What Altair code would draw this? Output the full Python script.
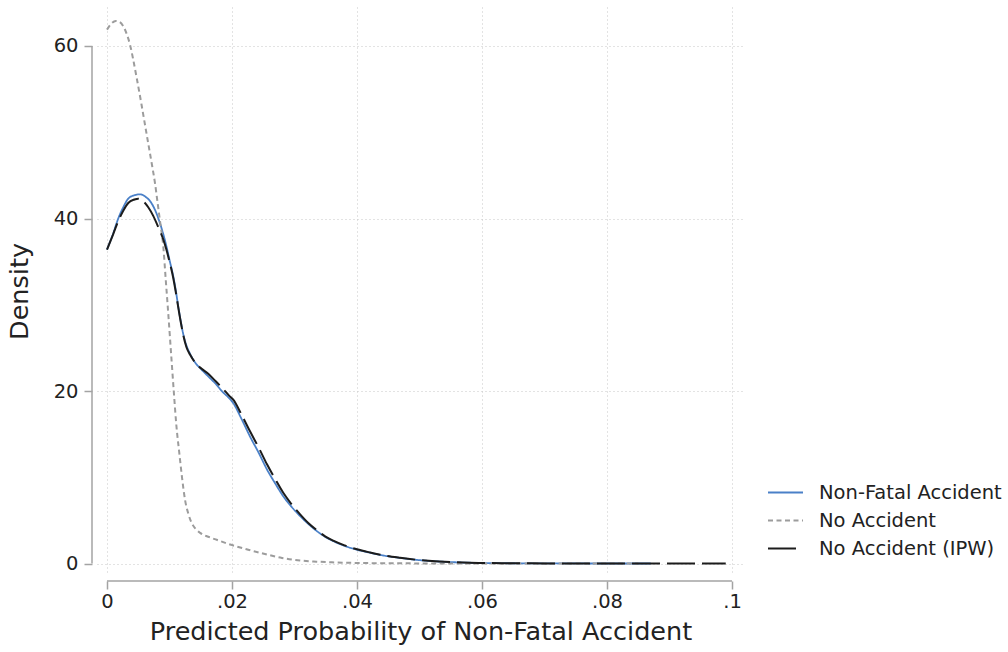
import altair as alt
import pandas as pd

# Kernel density estimates of the predicted probability of a non-fatal accident
nonfatal_x = [0, 0.001, 0.0018, 0.0026, 0.0034, 0.0044, 0.0053, 0.0062, 0.0071, 0.0078,
              0.0085, 0.009, 0.0095, 0.0100, 0.0106, 0.0110, 0.0114, 0.0118, 0.0122, 0.0127,
              0.0133, 0.0141, 0.0151, 0.0162, 0.0173, 0.0185, 0.0195, 0.0202, 0.0215, 0.0229,
              0.0243, 0.0256, 0.0269, 0.0282, 0.0295, 0.0309, 0.0322, 0.0336, 0.0349, 0.0362,
              0.038, 0.040, 0.0421, 0.0442, 0.0469, 0.0496, 0.052, 0.0549, 0.058, 0.060,
              0.065, 0.07, 0.075, 0.08, 0.087]
nonfatal_y = [36.4, 38.3, 40.0, 41.3, 42.3, 42.7, 42.8, 42.5, 41.8, 40.8,
              39.4, 38.2, 36.8, 35.2, 33.3, 31.7, 29.8, 28.1, 26.6, 25.3,
              24.3, 23.3, 22.5, 21.7, 20.9, 19.9, 19.2, 18.6, 16.8, 14.7,
              12.8, 10.9, 9.3, 7.8, 6.6, 5.5, 4.6, 3.75, 3.1, 2.6,
              2.05, 1.6, 1.25, 0.93, 0.65, 0.42, 0.28, 0.17, 0.09, 0.06,
              0.03, 0.015, 0.008, 0.004, 0.002]

noacc_x = [0, 0.0007, 0.0014, 0.002, 0.0026, 0.0032, 0.0037, 0.0042, 0.00475, 0.0055,
           0.006, 0.0066, 0.0072, 0.0077, 0.0081, 0.0085, 0.009, 0.0094, 0.0098, 0.0102,
           0.0107, 0.0111, 0.01157, 0.012, 0.01248, 0.013, 0.01355, 0.0142, 0.0149, 0.0162,
           0.01755, 0.0197, 0.0226, 0.0256, 0.028, 0.0309, 0.0335, 0.036, 0.040, 0.045,
           0.05, 0.06, 0.07, 0.085]
noacc_y = [61.9, 62.6, 62.9, 62.8, 62.3, 61.3, 60.1, 58.4, 56.3, 53.3,
           51.2, 48.7, 46.2, 44.0, 41.8, 39.6, 36.8, 32.9, 29.0, 24.9,
           19.8, 16.0, 12.8, 10.0, 7.4, 5.8, 4.7, 4.0, 3.55, 3.1,
           2.75, 2.2, 1.6, 1.04, 0.65, 0.35, 0.22, 0.14, 0.07, 0.03,
           0.015, 0.005, 0.002, 0.001]

ipw_x = [0, 0.001, 0.0018, 0.0026, 0.0034, 0.0044, 0.005, 0.0058, 0.0066, 0.0074,
         0.0082, 0.009, 0.0095, 0.0100, 0.0106, 0.0110, 0.0114, 0.0118, 0.0122, 0.0127,
         0.0133, 0.0141, 0.0151, 0.0162, 0.0173, 0.0185, 0.0195, 0.0202, 0.0215, 0.0229,
         0.0243, 0.0256, 0.0269, 0.0282, 0.0295, 0.0309, 0.0322, 0.0336, 0.0349, 0.0362,
         0.038, 0.040, 0.0421, 0.0442, 0.0469, 0.0496, 0.052, 0.0549, 0.058, 0.060,
         0.065, 0.07, 0.075, 0.08, 0.09, 0.099]
ipw_y = [36.4, 38.2, 39.7, 40.9, 41.8, 42.2, 42.3, 42.0, 41.3, 40.3,
         39.0, 37.6, 36.4, 35.0, 33.1, 31.5, 29.7, 28.0, 26.5, 25.1,
         24.2, 23.3, 22.6, 22.0, 21.2, 20.3, 19.5, 19.0, 17.3, 15.3,
         13.4, 11.5, 9.8, 8.2, 6.9, 5.7, 4.7, 3.85, 3.15, 2.65,
         2.1, 1.65, 1.28, 0.95, 0.66, 0.43, 0.29, 0.18, 0.1, 0.065,
         0.03, 0.015, 0.008, 0.004, 0.002, 0.001]

series = ["Non-Fatal Accident", "No Accident", "No Accident (IPW)"]
colors = ["#4a80c8", "#9c9c9c", "#1c1c1c"]
dashes = [[1, 0], [5, 3.5], [28, 7]]
widths = [1.8, 2.0, 2.0]

x_ticks = [0, 0.02, 0.04, 0.06, 0.08, 0.1]
y_ticks = [0, 20, 40, 60]

rows = []
for name, xs, ys in zip(series, [nonfatal_x, noacc_x, ipw_x], [nonfatal_y, noacc_y, ipw_y]):
    rows += [{"prob": x, "density": y, "group": name} for x, y in zip(xs, ys)]
df = pd.DataFrame(rows)

FONT = "DejaVu Sans"
W, H = 647, 568

x_scale = alt.Scale(domain=[-0.0016, 0.10192], nice=False, zero=False)
y_scale = alt.Scale(domain=[-1.33, 64.52], nice=False, zero=False)

legend = alt.Legend(
    title=None, orient="none", legendX=670, legendY=467,
    symbolType="stroke", symbolSize=1225, symbolStrokeWidth=2,
    labelFontSize=19.5, labelFont=FONT, labelColor="#222222", labelLimit=400,
    labelOffset=15, rowPadding=-2.5, padding=0, offset=0,
)

x_axis = alt.Axis(
    values=x_ticks, title="Predicted Probability of Non-Fatal Accident",
    labelExpr="datum.value == 0 ? '0' : substring(format(datum.value, '.2~f'), 1)",
    offset=6, domain=False, tickSize=8, labelPadding=3, titlePadding=9,
    labelFlush=False, labelOverlap=False,
)
y_axis = alt.Axis(
    values=y_ticks, title="Density", offset=5, domain=False, tickSize=8,
    labelPadding=6, titlePadding=21,
)

layers = []
for name, w in zip(series, widths):
    layers.append(
        alt.Chart(df).transform_filter(alt.datum.group == name)
        .mark_line(interpolate="monotone", strokeWidth=w)
        .encode(
            x=alt.X("prob:Q", scale=x_scale, axis=x_axis),
            y=alt.Y("density:Q", scale=y_scale, axis=y_axis),
            color=alt.Color("group:N", scale=alt.Scale(domain=series, range=colors), legend=legend),
            strokeDash=alt.StrokeDash("group:N", scale=alt.Scale(domain=series, range=dashes), legend=legend),
        )
    )

# Axis lines spanning only the first to last tick
y_line = alt.Chart(pd.DataFrame({"lo": [y_ticks[0]], "hi": [y_ticks[-1]]})).mark_rule(
    color="#a3a3a3", strokeWidth=1.5
).encode(x=alt.value(-5), y=alt.Y("lo:Q", scale=y_scale), y2="hi:Q")
x_line = alt.Chart(pd.DataFrame({"lo": [x_ticks[0]], "hi": [x_ticks[-1]]})).mark_rule(
    color="#a3a3a3", strokeWidth=1.5
).encode(y=alt.value(H + 6), x=alt.X("lo:Q", scale=x_scale), x2="hi:Q")

chart = alt.layer(y_line, x_line, *layers).properties(
    width=W, height=H,
    autosize=alt.AutoSizeParams(type="none"),
    padding={"left": 97, "top": 7, "right": 264, "bottom": 77},
    background="white",
).configure_view(stroke=None).configure_axis(
    labelFont=FONT, titleFont=FONT, labelFontSize=19.5, titleFontSize=25.5,
    labelColor="#222222", titleColor="#222222", titleFontWeight="normal",
    tickColor="#a3a3a3", tickWidth=1.5,
    gridColor="#c6c6c6", gridDash=[1, 3], gridWidth=1,
)

chart.save("out.html", embed_options={"renderer": "svg", "actions": False})
